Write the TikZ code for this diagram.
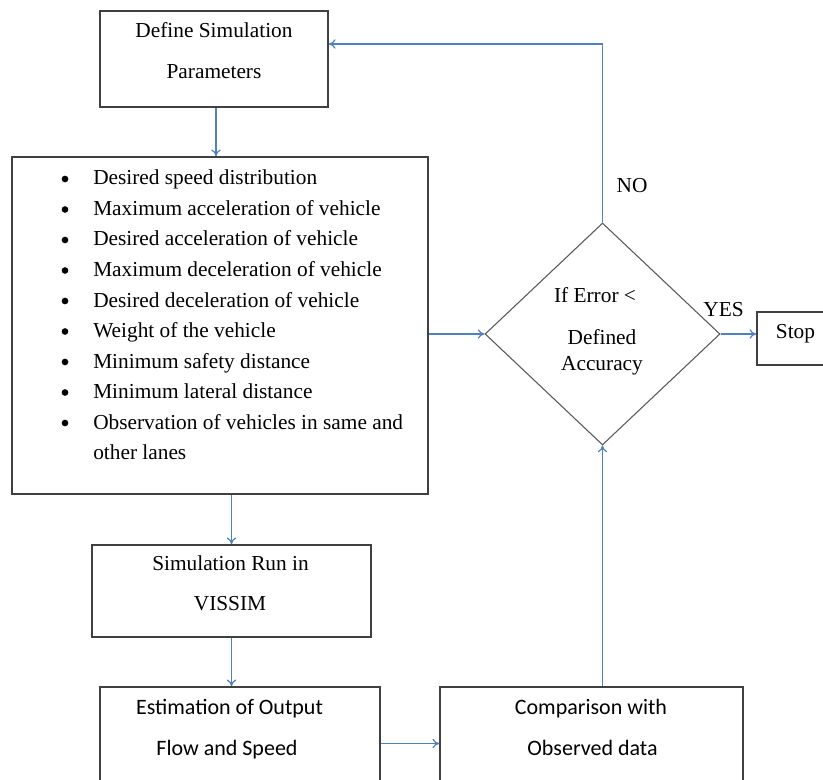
\documentclass[tikz,border=0pt]{standalone}
\usepackage{fontspec}
\setmainfont{Liberation Serif}
\newfontfamily\calib{Carlito}
\usetikzlibrary{shapes.geometric,arrows.meta}
\definecolor{flowblue}{HTML}{4F81BD}
\definecolor{boxgray}{HTML}{404040}
\tikzset{>={To[length=5pt,width=7pt]}}

\begin{document}
\begin{tikzpicture}[x=0.75pt,y=-0.75pt,font=\fontsize{16}{19}\selectfont]
        % 1 unit = 1 pixel of the original sketch
        \tikzset{box/.style={rectangle, draw=boxgray, line width=1.2pt, inner sep=0pt},
                 decision/.style={diamond, draw=gray!70!black, line width=0.8pt, inner sep=0pt},
                 flow/.style={->, draw=flowblue, line width=0.9pt},
                 txt/.style={anchor=base, inner sep=0pt, text=black},
                 dot/.style={circle, fill=black, inner sep=0pt, minimum size=5pt}}
        \useasboundingbox (0,0) rectangle (823,780);
        \clip (0,0) rectangle (823,780);
        \fill[white] (0,0) rectangle (823,780);

        \node[box, minimum width=171pt, minimum height=72pt] (def) at (214,59) {};
        \node[txt] (def1) at (214,38) {Define Simulation};
        \node[txt] (def2) at (214,79) {Parameters};

        \node[box, minimum width=312pt, minimum height=252.75pt] (params) at (220,325.5) {};
        \foreach \t [count=\i] in {Desired speed distribution,
                Maximum acceleration of vehicle,
                Desired acceleration of vehicle,
                Maximum deceleration of vehicle,
                Desired deceleration of vehicle,
                Weight of the vehicle,
                Minimum safety distance,
                Minimum lateral distance,
                Observation of vehicles in same and}{
            \node[dot] (dot\i) at (65,{179+30.5*(\i-1)}) {};
            \node[txt, anchor=base west] (item\i) at (93,{185+30.5*(\i-1)}) {\t};
        }
        \node[txt, anchor=base west] (item10) at (93,459.5) {other lanes};

        \node[decision, minimum width=176.25pt, minimum height=166.5pt] (dec) at (602.5,334) {};
        \node[txt] (dec1) at (595,302) {If Error <};
        \node[txt] (dec2) at (602,344) {Defined};
        \node[txt] (dec3) at (602,370) {Accuracy};

        \node[box, minimum width=62.25pt, minimum height=39.75pt] (stop) at (798.5,338.5) {};
        \node[txt] (stoptxt) at (795.5,338) {Stop};

        \node[box, minimum width=209.25pt, minimum height=69pt] (sim) at (231.5,591) {};
        \node[txt] (sim1) at (230.5,570) {Simulation Run in};
        \node[txt] (sim2) at (230,610) {VISSIM};

        \node[box, minimum width=210pt, minimum height=84.75pt] (est) at (240,743.5) {};
        \node[txt, font=\calib\fontsize{16.5}{19}\selectfont] (est1) at (229.5,714) {Estimation of Output};
        \node[txt, font=\calib\fontsize{16.5}{19}\selectfont] (est2) at (227,755) {Flow and Speed};

        \node[box, minimum width=227.25pt, minimum height=84.75pt] (cmp) at (591.5,743.5) {};
        \node[txt, font=\calib\fontsize{16.5}{19}\selectfont] (cmp1) at (591,714) {Comparison with};
        \node[txt, font=\calib\fontsize{16.5}{19}\selectfont] (cmp2) at (592.5,755) {Observed data};

        \node[txt] (no) at (632,193) {NO};
        \node[txt] (yes) at (723.5,316) {YES};

        \draw[flow] ([xshift=1.5pt]def.south) -- ([xshift=1.5pt]def.south |- params.north);
        \draw[flow] (params.east |- dec.west) -- (dec.west);
        \draw[flow] (dec.north) |- ([yshift=11.25pt]def.east);
        \draw[flow] (dec.east) -- (dec.east -| stop.west);
        \draw[flow] (params.south -| sim.north) -- (sim.north);
        \draw[flow] (sim.south) -- (sim.south |- est.north);
        \draw[flow] (est.east) -- (est.east -| cmp.west);
        \draw[flow] (dec.south |- cmp.north) -- (dec.south);
\end{tikzpicture}
\end{document}
